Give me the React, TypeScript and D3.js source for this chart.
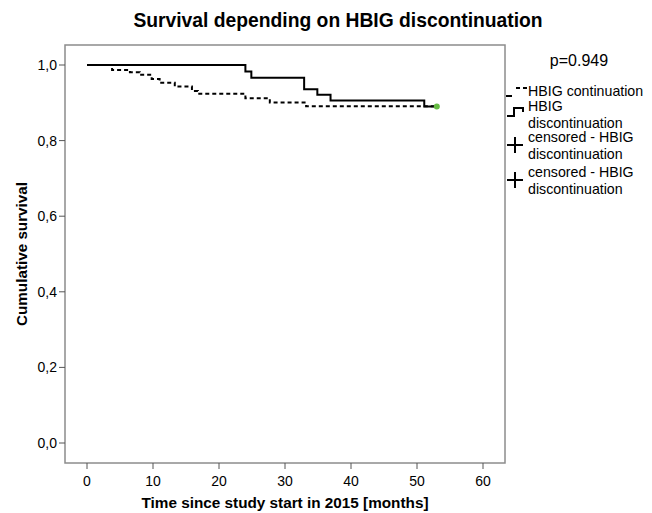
import React from 'react';
import * as d3 from 'd3';

// Kaplan-Meier step values
const contTimes = [0, 3.8, 6.5, 8, 9.8, 11, 13.3, 15.9, 16.8, 24, 27.7, 33.2, 53];
const contSurv = [1, 0.987, 0.981, 0.974, 0.963, 0.953, 0.943, 0.931, 0.924, 0.912, 0.901, 0.891, 0.891];
const discTimes = [0, 24, 24.9, 32.9, 34.9, 36.9, 51.1, 53];
const discSurv = [1, 0.983, 0.966, 0.936, 0.921, 0.906, 0.89, 0.89];
const censorTimes = [53];
const censorSurv = [0.89];

const xTicks = [0, 10, 20, 30, 40, 50, 60];
const yTicks = [0, 0.2, 0.4, 0.6, 0.8, 1.0];

const title = 'Survival depending on HBIG discontinuation';
const xLabel = 'Time since study start in 2015 [months]';
const yLabel = 'Cumulative survival';
const pValue = 'p=0.949';

const FONT = '"Liberation Sans", Arial, sans-serif';

const App = () => {
  const width = 652;
  const height = 513;
  const frame = { left: 65, right: 505, top: 45, bottom: 463 };

  const x = d3.scaleLinear().domain([0, 60]).range([87, 483]);
  const y = d3.scaleLinear().domain([0, 1]).range([443, 65]);

  const line = d3
    .line<[number, number]>()
    .x((d) => x(d[0]))
    .y((d) => y(d[1]))
    .curve(d3.curveStepAfter);

  const contPts = contTimes.map((t, i) => [t, contSurv[i]] as [number, number]);
  const discPts = discTimes.map((t, i) => [t, discSurv[i]] as [number, number]);

  const fmt = (v: number) => d3.format('.1f')(v).replace('.', ',');

  const lx = 528; // legend text x
  const lfs = 14.2; // legend font size
  const cross = (cx: number, cy: number) => (
    <g stroke="#000" strokeWidth={2}>
      <line x1={cx - 8} x2={cx + 8} y1={cy} y2={cy} />
      <line x1={cx} x2={cx} y1={cy - 8} y2={cy + 8} />
    </g>
  );
  const label2 = (top: number, a: string, b: string) => (
    <g>
      <text x={lx} y={top} fontSize={lfs}>{a}</text>
      <text x={lx} y={top + 16.5} fontSize={lfs}>{b}</text>
    </g>
  );

  return (
    <svg
      width={width}
      height={height}
      style={{ position: 'absolute', left: 0, top: 0, background: '#fff' }}
      fontFamily={FONT}
    >
      <text x={338} y={27} textAnchor="middle" fontSize={19.3} fontWeight="bold">
        {title}
      </text>

      {/* frame */}
      <rect
        x={frame.left}
        y={frame.top}
        width={frame.right - frame.left}
        height={frame.bottom - frame.top}
        fill="none"
        stroke="#8c8c8c"
        strokeWidth={1.5}
      />

      {/* y axis */}
      {yTicks.map((t) => (
        <g key={t}>
          <line x1={frame.left - 6} x2={frame.left} y1={y(t)} y2={y(t)} stroke="#555" />
          <text x={frame.left - 8} y={y(t) + 5} textAnchor="end" fontSize={14}>
            {fmt(t)}
          </text>
        </g>
      ))}
      <text
        transform={`translate(27,${(frame.top + frame.bottom) / 2}) rotate(-90)`}
        textAnchor="middle"
        fontSize={14}
        fontWeight="bold"
        textLength={144}
        lengthAdjust="spacingAndGlyphs"
      >
        {yLabel}
      </text>

      {/* x axis */}
      {xTicks.map((t) => (
        <g key={t}>
          <line x1={x(t)} x2={x(t)} y1={frame.bottom} y2={frame.bottom + 6} stroke="#555" />
          <text x={x(t)} y={486} textAnchor="middle" fontSize={14}>
            {t}
          </text>
        </g>
      ))}
      <text
        x={(frame.left + frame.right) / 2}
        y={508}
        textAnchor="middle"
        fontSize={14}
        fontWeight="bold"
        textLength={287}
        lengthAdjust="spacingAndGlyphs"
      >
        {xLabel}
      </text>

      {/* curves */}
      <path d={line(contPts) || ''} fill="none" stroke="#000" strokeWidth={2} strokeDasharray="4,3" />
      <path d={line(discPts) || ''} fill="none" stroke="#000" strokeWidth={2} />
      {censorTimes.map((t, i) => (
        <circle key={i} cx={x(t)} cy={y(censorSurv[i])} r={3} fill="#66bb44" />
      ))}

      {/* legend */}
      <text x={579} y={66} textAnchor="middle" fontSize={16}>
        {pValue}
      </text>
      <path d="M506,96 H512 M516,88 H520 M523,88 H527" fill="none" stroke="#000" strokeWidth={2} />
      <text x={lx} y={96} fontSize={lfs}>HBIG continuation</text>

      <path d="M507,116 H514 V108 H523 V112" fill="none" stroke="#000" strokeWidth={2} />
      {label2(111, 'HBIG', 'discontinuation')}

      {cross(515, 145)}
      {label2(142, 'censored - HBIG', 'discontinuation')}

      {cross(515, 180)}
      {label2(177, 'censored - HBIG', 'discontinuation')}
    </svg>
  );
};

export default App;
